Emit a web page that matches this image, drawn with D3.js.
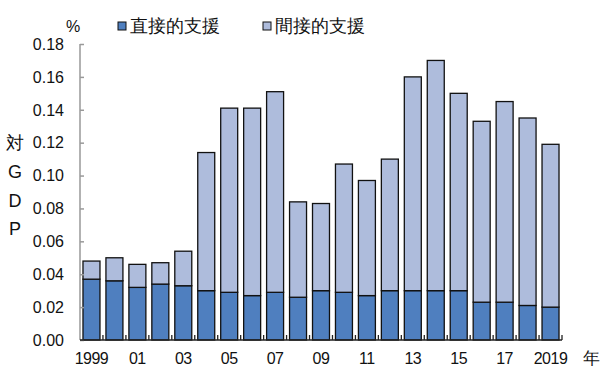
<!DOCTYPE html>
<html><head><meta charset="utf-8">
<script src="https://cdn.jsdelivr.net/npm/d3@7"></script>
<style>body{margin:0;background:#fff}svg{display:block}text{font-family:"Liberation Sans",Arial,sans-serif}</style>
</head><body><svg id="c" width="600" height="368"></svg>
<script>
const years = [1999,2000,2001,2002,2003,2004,2005,2006,2007,2008,2009,2010,2011,2012,2013,2014,2015,2016,2017,2018,2019];
const direct = [0.037,0.036,0.032,0.034,0.033,0.030,0.029,0.027,0.029,0.026,0.030,0.029,0.027,0.030,0.030,0.030,0.030,0.023,0.023,0.021,0.020];
const total = [0.048,0.050,0.046,0.047,0.054,0.114,0.141,0.141,0.151,0.084,0.083,0.107,0.097,0.110,0.160,0.170,0.150,0.133,0.145,0.135,0.119];
const indirect = total.map((t,i)=>+(t-direct[i]).toFixed(3));
const xLabels = {1999:"1999",2001:"01",2003:"03",2005:"05",2007:"07",2009:"09",2011:"11",2013:"13",2015:"15",2017:"17",2019:"2019"};
const yTicks = [0,0.02,0.04,0.06,0.08,0.10,0.12,0.14,0.16,0.18];
const seriesNames = ["直接的支援","間接的支援"];
const colors = ["#4f7fbf","#aebcdc"];

const svg = d3.select("#c");
const x = d3.scaleBand().domain(years).range([80,562]).paddingInner(0.26).paddingOuter(0.13);
const y = d3.scaleLinear().domain([0,0.18]).range([340,44]);

const data = years.map((yr,i)=>({year:yr,direct:direct[i],indirect:indirect[i]}));
const stack = d3.stack().keys(["direct","indirect"])(data);

svg.append("g").selectAll("g").data(stack).join("g")
  .attr("fill",(d,i)=>colors[i])
  .selectAll("rect").data(d=>d).join("rect")
  .attr("x",d=>x(d.data.year)).attr("width",x.bandwidth())
  .attr("y",d=>y(d[1])).attr("height",d=>y(d[0])-y(d[1]))
  .attr("stroke","#111").attr("stroke-width",1.3);

// y axis
const ya = svg.append("g").attr("transform","translate(80,0)")
  .call(d3.axisRight(y).tickValues(yTicks).tickSize(4).tickFormat(""));
ya.select(".domain").attr("stroke","#999").attr("stroke-width",1.5).attr("d","M0,44V340");
ya.selectAll(".tick line").attr("stroke","#999").attr("stroke-width",1.5);
svg.append("g").selectAll("text").data(yTicks).join("text")
  .attr("x",64).attr("y",d=>y(d)).attr("dy","0.36em").attr("text-anchor","end")
  .attr("font-size",16).attr("fill","#111").text(d=>d.toFixed(2));

// x axis
svg.append("line").attr("x1",80).attr("x2",562).attr("y1",340).attr("y2",340).attr("stroke","#222").attr("stroke-width",1.5);
svg.append("g").selectAll("line").data(d3.range(1,years.length+1)).join("line")
  .attr("x1",i=>80+i*x.step()).attr("x2",i=>80+i*x.step())
  .attr("y1",340).attr("y2",335).attr("stroke","#222").attr("stroke-width",1.3);
svg.append("g").selectAll("text").data(years.filter(yr=>xLabels[yr])).join("text")
  .attr("x",d=>x(d)+x.bandwidth()/2).attr("y",364).attr("text-anchor","middle")
  .attr("font-size",16).attr("fill","#111").attr("letter-spacing","-0.5").text(d=>xLabels[d]);

svg.append("text").attr("x",583).attr("y",364).attr("font-size",17).attr("font-family","Noto Sans CJK JP").attr("fill","#111").text("年");
svg.append("text").attr("x",66).attr("y",32).attr("font-size",16).attr("fill","#111").text("%");

// y title
const yTitle = ["対","G","D","P"];
const yTitleY = [143,172,201,229];
svg.append("g").selectAll("text").data(yTitle).join("text")
  .attr("x",15).attr("y",(d,i)=>yTitleY[i]).attr("dy","0.36em").attr("text-anchor","middle")
  .attr("font-size",18).attr("font-family",(d,i)=>i===0?"Noto Sans CJK JP":"Liberation Sans").attr("fill","#111").text(d=>d);

// legend
const legX = [118,263];
const lg = svg.append("g");
seriesNames.forEach((n,i)=>{
  lg.append("rect").attr("x",legX[i]).attr("y",22).attr("width",8).attr("height",8)
    .attr("fill",colors[i]).attr("stroke","#111").attr("stroke-width",1);
  lg.append("text").attr("x",legX[i]+12).attr("y",26).attr("dy","0.36em")
    .attr("font-size",18).attr("font-family","Noto Sans CJK JP").attr("fill","#111").text(n);
});
</script></body></html>
